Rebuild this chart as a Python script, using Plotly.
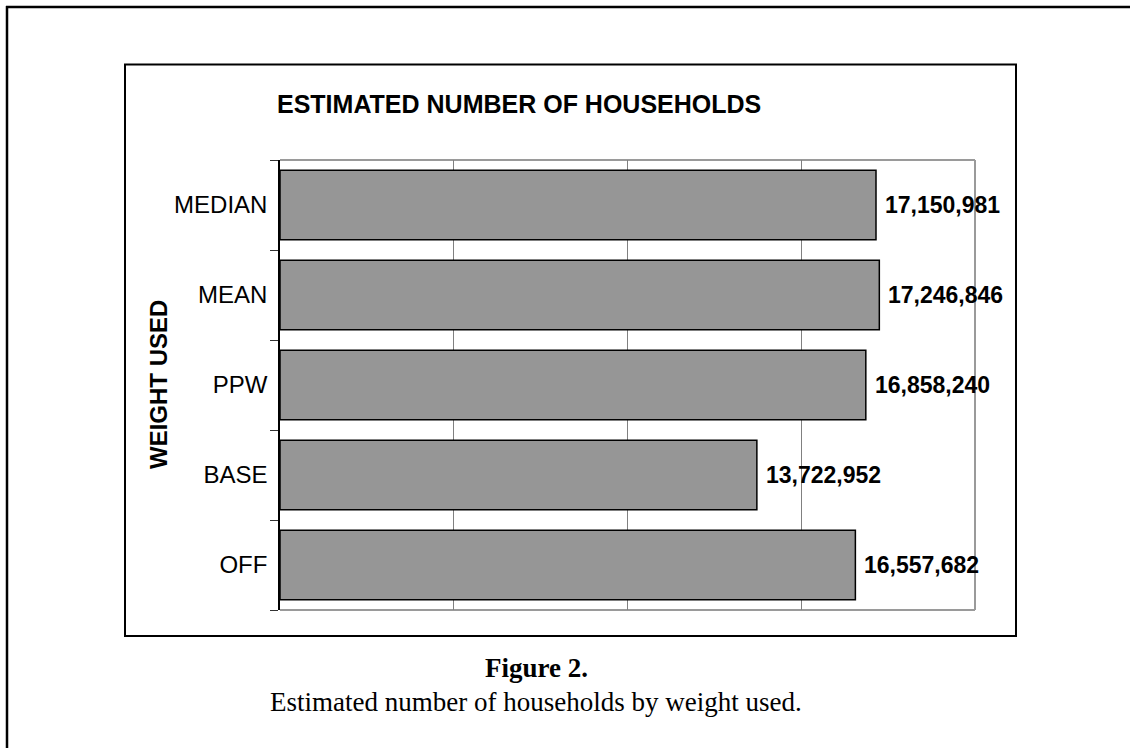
import plotly.graph_objects as go

categories = ["OFF", "BASE", "PPW", "MEAN", "MEDIAN"]
households = [16557682, 13722952, 16858240, 17246846, 17150981]
value_labels = ["16,557,682", "13,722,952", "16,858,240", "17,246,846", "17,150,981"]

chart_title = "ESTIMATED NUMBER OF HOUSEHOLDS"
axis_title = "WEIGHT USED"
caption_head = "Figure 2."
caption_text = "Estimated number of households by weight used."

W, H = 1130, 748
L, R, T, B = 280, 975, 160, 610


def px(x):
    return (x - L) / (R - L)


def py(y):
    return (B - y) / (B - T)


fig = go.Figure()
fig.add_trace(go.Bar(
    y=categories, x=households, orientation="h",
    marker=dict(color="#969696", line=dict(color="black", width=1.5)),
    hoverinfo="skip",
))

ann = []
for c, v, t in zip(categories, households, value_labels):
    ann.append(dict(x=v, y=c, xref="x", yref="y", text="<b>%s</b>" % t,
                    showarrow=False, xanchor="left", yanchor="middle", xshift=7,
                    font=dict(family="Liberation Sans, Arial", size=23, color="black")))

ann += [
    dict(x=px(519), y=py(104), xref="paper", yref="paper", text="<b>%s</b>" % chart_title,
         showarrow=False, xanchor="center", yanchor="middle",
         font=dict(family="Liberation Sans, Arial", size=25, color="black")),
    dict(x=px(158), y=py(385), xref="paper", yref="paper", text="<b>%s</b>" % axis_title,
         showarrow=False, xanchor="center", yanchor="middle", textangle=-90,
         font=dict(family="Liberation Sans, Arial", size=24, color="black")),
    dict(x=px(536), y=py(668), xref="paper", yref="paper", text="<b>%s</b>" % caption_head,
         showarrow=False, xanchor="center", yanchor="middle",
         font=dict(family="Liberation Serif, Times New Roman", size=27, color="black")),
    dict(x=px(536), y=py(702), xref="paper", yref="paper", text=caption_text,
         showarrow=False, xanchor="center", yanchor="middle",
         font=dict(family="Liberation Serif, Times New Roman", size=27, color="black")),
]

shapes = [
    # outer page border (top and left)
    dict(type="line", xref="paper", yref="paper", x0=px(6), x1=px(1135), y0=py(7), y1=py(7),
         line=dict(color="black", width=2.5)),
    dict(type="line", xref="paper", yref="paper", x0=px(7), x1=px(7), y0=py(6), y1=py(755),
         line=dict(color="black", width=2.5)),
    # chart box
    dict(type="rect", xref="paper", yref="paper", x0=px(125), x1=px(1016), y0=py(64.5), y1=py(636),
         line=dict(color="black", width=2)),
    # plot area border (gray)
    dict(type="line", xref="paper", yref="paper", x0=0, x1=1, y0=1, y1=1,
         line=dict(color="#9a9a9a", width=2), layer="below"),
    dict(type="line", xref="paper", yref="paper", x0=0, x1=1, y0=0, y1=0,
         line=dict(color="#9a9a9a", width=2), layer="below"),
    dict(type="line", xref="paper", yref="paper", x0=1, x1=1, y0=0, y1=1,
         line=dict(color="#9a9a9a", width=2), layer="below"),
]

fig.update_layout(
    width=W, height=H,
    margin=dict(l=L, r=W - R, t=T, b=H - B, pad=0),
    paper_bgcolor="white", plot_bgcolor="white",
    showlegend=False, bargap=0.23,
    annotations=ann, shapes=shapes,
    xaxis=dict(range=[0, 20000000], dtick=5000000, tick0=0, showgrid=True,
               gridcolor="#808080", gridwidth=1, zeroline=False,
               showticklabels=False, ticks="", showline=False, fixedrange=True),
    yaxis=dict(type="category", categoryorder="array", categoryarray=categories,
               showline=True, linecolor="black", linewidth=1.5,
               ticks="outside", tickson="boundaries", ticklen=8, tickcolor="#333333", tickwidth=1,
               ticklabelstandoff=6, showgrid=False, zeroline=False,
               tickfont=dict(family="Liberation Sans, Arial", size=24, color="black"),
               fixedrange=True),
)

fig.write_html("out.html", config={"displayModeBar": False},
               post_script="document.body.style.margin='0';document.body.style.overflow='hidden';")
